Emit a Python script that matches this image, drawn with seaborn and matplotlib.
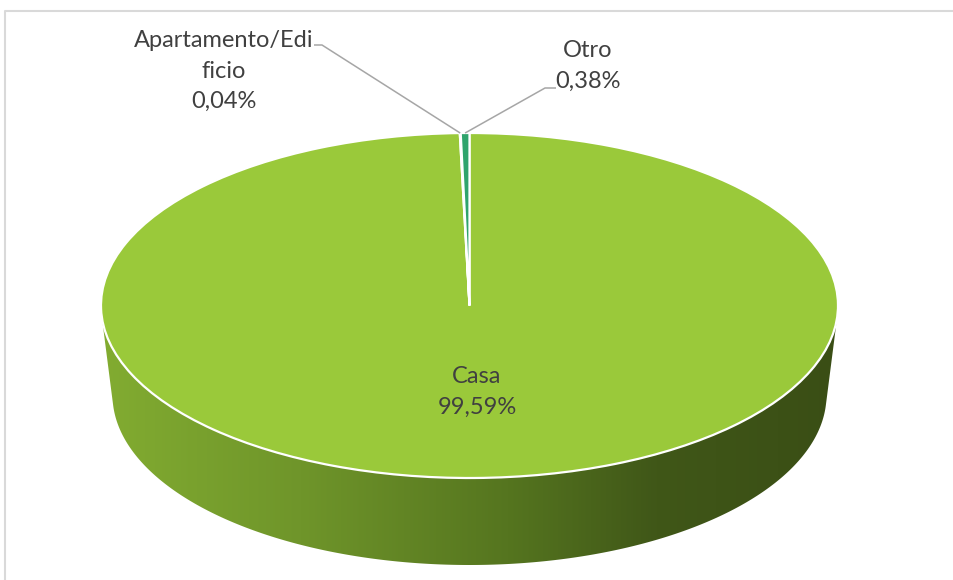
import numpy as np
import matplotlib
matplotlib.use("Agg")
import matplotlib.pyplot as plt
import seaborn as sns
from matplotlib.patches import Polygon
from matplotlib.lines import Line2D
from matplotlib.colors import LinearSegmentedColormap

# ---- data ----
categories = ["Casa", "Apartamento/Edificio", "Otro"]
values = [99.59, 0.04, 0.38]
slice_colors = ["#9AC93A", "#5E8F2A", "#2FA46C"]

sns.set_theme(style="white")
plt.rcParams["font.family"] = ["Lato", "DejaVu Sans"]

W, H = 954, 580
fig = plt.figure(figsize=(W / 100, H / 100), dpi=100)
ax = fig.add_axes([0, 0, 1, 1])

# pixel -> data helpers (top ellipse: center (469.5, 305.5), a=368.5, b=172.5)
CX, CY, A, B = 469.5, 305.5, 368.5, 172.5
def X(px):
    return (px - CX) / A
def Y(py):
    return (CY - py) / B

# ---- side of the 3D pie (convex hull of top & bottom ellipse) ----
t = np.linspace(0, 2 * np.pi, 720)
a2, cy2, b2 = 357.0 / A, Y(395), 170.0 / B
pts = np.vstack([np.c_[np.cos(t), np.sin(t)],
                 np.c_[a2 * np.cos(t), cy2 + b2 * np.sin(t)]])

def hull(p):
    p = sorted(map(tuple, p))
    def cross(o, a, b):
        return (a[0] - o[0]) * (b[1] - o[1]) - (a[1] - o[1]) * (b[0] - o[0])
    lower, upper = [], []
    for q in p:
        while len(lower) >= 2 and cross(lower[-2], lower[-1], q) <= 0:
            lower.pop()
        lower.append(q)
    for q in reversed(p):
        while len(upper) >= 2 and cross(upper[-2], upper[-1], q) <= 0:
            upper.pop()
        upper.append(q)
    return np.array(lower[:-1] + upper[:-1])

side = Polygon(hull(pts), closed=True, transform=ax.transData,
               facecolor="none", edgecolor="none")
ax.add_patch(side)
cmap = LinearSegmentedColormap.from_list(
    "side", [(0.0, "#82AC31"), (0.27, "#6F952A"), (0.55, "#55751F"),
             (0.75, "#405718"), (1.0, "#3A4E15")])
grad = np.linspace(0, 1, 400)[None, :]
im = ax.imshow(grad, cmap=cmap, aspect="auto",
               extent=[X(100), X(842), Y(570), Y(300)], zorder=1,
               interpolation="bilinear")
im.set_clip_path(side)

# ---- top of the pie ----
wedges, _ = ax.pie(values, colors=slice_colors, startangle=90, counterclock=False,
                   radius=1.0, center=(0, 0),
                   wedgeprops=dict(edgecolor="white", linewidth=1.6))
for w in wedges:
    w.set_zorder(3)

ax.set_aspect("auto")
ax.set_xlim(X(0), X(W))
ax.set_ylim(Y(H), Y(0))
ax.axis("off")

# ---- labels ----
def fmt(v):
    return f"{v:.2f}".replace(".", ",") + "%"

def wrap(s, n=15):
    return s if len(s) <= n else s[:n] + "\n" + s[n:]

txt_kw = dict(color="#404040", fontsize=17, ha="center", va="center",
              linespacing=1.55, zorder=5)
label_pos = {"Casa": (477, 392), "Apartamento/Edificio": (224, 71), "Otro": (588, 66)}
leader = {"Apartamento/Edificio": [(314, 45), (322, 45)],
          "Otro": [(556, 88), (545, 88)]}

total = sum(values)
cum = 0.0
for name, v, w in zip(categories, values, wedges):
    mid = np.deg2rad(90 - 360 * (cum + v / 2) / total)
    cum += v
    lx, ly = label_pos[name]
    ax.text(X(lx), Y(ly), wrap(name) + "\n" + fmt(v), **txt_kw)
    if name in leader:
        (x0, y0), (x1, y1) = leader[name]
        ex, ey = np.cos(mid), np.sin(mid)
        ax.plot([X(x0), X(x1), ex], [Y(y0), Y(y1), ey], color="#A6A6A6",
                lw=1.1, zorder=4, solid_capstyle="butt")

# ---- chart frame ----
fig.add_artist(Line2D([5.5 / W, 5.5 / W, 1.0], [0.0, 1 - 10.5 / H, 1 - 10.5 / H],
                      transform=fig.transFigure, color="#D9D9D9", lw=1.5))

fig.savefig("out.png", dpi=100)
